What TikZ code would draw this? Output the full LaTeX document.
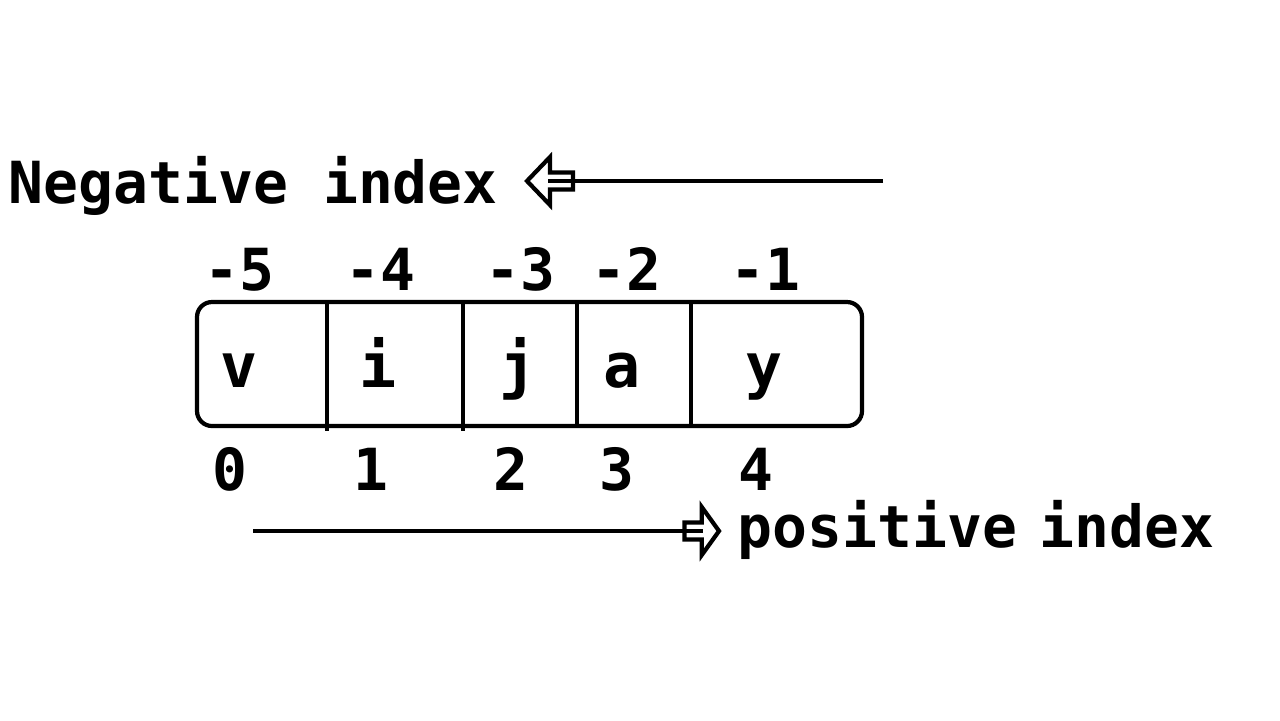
\documentclass[tikz,border=0pt]{standalone}
\usepackage{fontspec}
\setmonofont{DejaVu Sans Mono}

\tikzset{
    label/.style = {inner sep = 0, anchor = base, font = \ttfamily\bfseries\fontsize{16.5}{20}\selectfont},
    cell/.style = {inner sep = 0, anchor = base, font = \ttfamily\bfseries\fontsize{17.5}{20}\selectfont},
    blockhead/.pic = {
        \draw [line width = 1.2pt, line join = miter] (0, 0) -- (-23, -24) -- (-23, -8.5) -- (-46, -8.5)
              -- (-46, 8.5) -- (-23, 8.5) -- (-23, 24) -- cycle;
        \coordinate (-inner) at (-21, 0);
    }
}

\begin{document}
\begin{tikzpicture}[x = 0.01cm, y = -0.01cm]
        \useasboundingbox (0, 0) rectangle (1280, 720);

        % Box
        \draw [line width = 1.2pt, rounded corners = 0.15cm] (197, 302) rectangle (862, 426);
        \draw [line width = 1.2pt] (327, 302) -- (327, 431);
        \draw [line width = 1.2pt] (463, 302) -- (463, 431);
        \draw [line width = 1.2pt] (577, 302) -- (577, 426);
        \draw [line width = 1.2pt] (691, 302) -- (691, 426);

        % Nodes
        \node [cell] (v) at (239, 387) {v};
        \node [cell] (i) at (378, 387) {i};
        \node [cell] (j) at (518, 387) {j};
        \node [cell] (a) at (622, 387) {a};
        \node [cell] (y) at (764, 387) {y};

        \node [label] (m5) at (239, 290) {-5};
        \node [label] (m4) at (380, 290) {-4};
        \node [label] (m3) at (520, 290) {-3};
        \node [label] (m2) at (626, 290) {-2};
        \node [label] (m1) at (765, 290) {-1};

        \node [label] (p0) at (230, 490) {0};
        \node [label] (p1) at (371, 490) {1};
        \node [label] (p2) at (511, 490) {2};
        \node [label] (p3) at (617, 490) {3};
        \node [label] (p4) at (756, 490) {4};

        \node [label, anchor = base west] (neg) at (8, 203) {Negative index};
        \node [label, anchor = base west] (pos) at (737, 547) {positive\kern-.22em{} index};

        % Arrows
        \pic [rotate = 180] (negarrow) at (527, 181) {blockhead};
        \pic [xscale = 0.75] (posarrow) at (719, 531) {blockhead};
        \coordinate (negstart) at (883, 181);
        \coordinate (posstart) at (253, 531);

        % Edges
        \draw [line width = 1.2pt] (negstart) -- (negarrow-inner);
        \draw [line width = 1.2pt] (posstart) -- (posarrow-inner);
\end{tikzpicture}
\end{document}
